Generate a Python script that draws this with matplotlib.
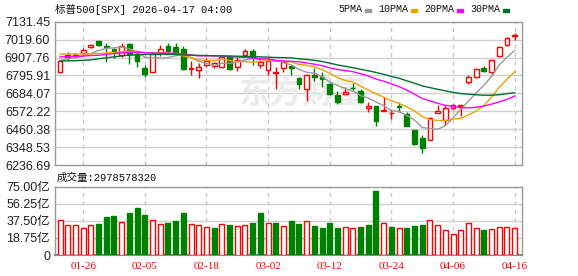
import matplotlib
matplotlib.use("Agg")
import matplotlib.pyplot as plt
import numpy as np
import pandas as pd
from matplotlib.patches import Rectangle

# ===== Data =====
dates = ["01-21", "01-22", "01-23", "01-26", "01-27", "01-28", "01-29", "01-30",
         "02-02", "02-03", "02-04", "02-05", "02-06", "02-09", "02-10", "02-11",
         "02-12", "02-13", "02-17", "02-18", "02-19", "02-20", "02-23", "02-24",
         "02-25", "02-26", "02-27", "03-02", "03-03", "03-04", "03-05", "03-06",
         "03-09", "03-10", "03-11", "03-12", "03-13", "03-16", "03-17", "03-18",
         "03-19", "03-20", "03-23", "03-24", "03-25", "03-26", "03-27", "03-30",
         "03-31", "04-01", "04-02", "04-06", "04-07", "04-08", "04-09", "04-10",
         "04-13", "04-14", "04-15", "04-16"]

tick_labels = ["01-26", "02-05", "02-18", "03-02", "03-12", "03-24", "04-06", "04-16"]

opens = [6820, 6923, 6917, 6934, 6975, 7010, 6981, 6959, 6923, 6993,
         6930, 6842, 6820, 6933, 6981, 6976, 6960, 6838, 6828, 6864,
         6855, 6849, 6911, 6847, 6921, 6950, 6863, 6832, 6814, 6841,
         6857, 6778, 6710, 6799, 6785, 6741, 6675, 6679, 6720, 6701,
         6590, 6602, 6575, 6560, 6603, 6555, 6455, 6408, 6395, 6559,
         6518, 6590, 6604, 6755, 6787, 6842, 6816, 6918, 6989, 7044]
highs = [6890, 6944, 6937, 6967, 6993, 7013, 6996, 6969, 7000, 7001,
         6946, 6859, 6944, 6984, 6996, 6998, 6977, 6888, 6872, 6903,
         6882, 6919, 6925, 6909, 6961, 6961, 6905, 6892, 6846, 6892,
         6864, 6787, 6803, 6841, 6816, 6747, 6701, 6726, 6747, 6710,
         6633, 6604, 6660, 6586, 6633, 6567, 6457, 6424, 6538, 6611,
         6611, 6619, 6614, 6797, 6842, 6855, 6894, 6977, 7039, 7063]
lows = [6813, 6892, 6905, 6930, 6969, 6977, 6877, 6903, 6913, 6869,
        6847, 6787, 6818, 6920, 6930, 6936, 6828, 6801, 6782, 6849,
        6841, 6843, 6828, 6822, 6915, 6863, 6842, 6801, 6712, 6819,
        6799, 6710, 6637, 6762, 6726, 6675, 6617, 6679, 6706, 6625,
        6565, 6478, 6571, 6526, 6567, 6478, 6360, 6314, 6395, 6559,
        6486, 6583, 6542, 6745, 6780, 6818, 6801, 6911, 6977, 7020]
closes = [6886, 6913, 6925, 6952, 6988, 6983, 6975, 6944, 6979, 6931,
          6888, 6807, 6928, 6964, 6950, 6945, 6836, 6840, 6849, 6886,
          6872, 6911, 6839, 6894, 6950, 6909, 6882, 6887, 6816, 6882,
          6841, 6741, 6799, 6787, 6772, 6679, 6633, 6695, 6716, 6627,
          6606, 6509, 6578, 6561, 6600, 6478, 6370, 6345, 6532, 6573,
          6590, 6611, 6614, 6787, 6833, 6824, 6891, 6971, 7028, 7047]

# volume in 亿 (1e8)
volumes = [38.4, 32.9, 32.9, 29.6, 32.9, 34.0, 41.7, 42.8, 36.2, 46.1,
           51.6, 43.9, 38.4, 34.0, 35.1, 37.3, 46.1, 34.0, 32.9, 30.7,
           29.6, 34.0, 32.9, 31.8, 32.9, 35.1, 46.1, 35.1, 35.1, 31.8,
           37.3, 34.0, 37.3, 31.8, 29.6, 35.1, 29.6, 30.7, 29.6, 30.7,
           32.9, 70.2, 35.1, 30.7, 29.6, 29.6, 31.8, 32.9, 38.4, 32.9,
           27.4, 23.0, 27.4, 35.1, 29.6, 27.4, 28.5, 30.7, 30.7, 29.7857832]
last_volume = "2978578320"

# moving-average values before each window is full
ma_heads = {
    5: [6890, 6900, 6908, 6916],
    10: [6929, 6929, 6930, 6930, 6931, 6933, 6936, 6940, 6944],
    20: [6912, 6913, 6915, 6917, 6920, 6922, 6927, 6932, 6937, 6940,
         6941, 6938, 6936, 6935, 6935, 6934, 6930, 6924, 6918],
    30: [6886, 6887, 6888, 6890, 6893, 6900, 6906, 6912, 6918, 6922,
         6925, 6927, 6928, 6928, 6928, 6927, 6924, 6922, 6921, 6920,
         6919, 6918, 6917, 6916, 6915, 6913, 6912, 6910, 6908],
}
ma_colors = {5: "#9a9a9a", 10: "#f0a000", 20: "#ff00ff", 30: "#007030"}

price_top = 7131.45
price_bottom = 6236.69

RED = "#ff0000"
GREEN = "#008000"

# ===== Build series =====
o = np.array(opens, float)
h = np.array(highs, float)
l = np.array(lows, float)
c = np.array(closes, float)
v = np.array(volumes, float)
x = np.arange(len(c))

cs = pd.Series(c)
mas = {}
for n, head in ma_heads.items():
    m = cs.rolling(n).mean().to_numpy()
    m[:n - 1] = head
    mas[n] = m

# ===== Figure =====
W, H = 578, 276
fig = plt.figure(figsize=(W / 100, H / 100), dpi=100)
fig.patch.set_facecolor("white")

left, right = 55, 522.3
ax = fig.add_axes([left / W, 1 - 165 / H, (right - left) / W, (165 - 21.7) / H])
axv = fig.add_axes([left / W, 1 - 255 / H, (right - left) / W, (255 - 186.7) / H])

tick_pos = [dates.index(t) for t in tick_labels]

for a in (ax, axv):
    a.set_xlim(-0.65, 59.99)
    a.set_xticks(tick_pos)
    a.tick_params(length=0)
    for s in a.spines.values():
        s.set_color("#999999")
        s.set_linewidth(1)
    for t in tick_pos:
        a.axvline(t, color="#c8c8c8", lw=1, ls=(0, (3, 3)), zorder=0)

# ===== Price panel =====
levels = np.linspace(price_bottom, price_top, 9)
ax.set_ylim(price_bottom, price_top)
ax.set_yticks(levels)
ax.set_yticklabels([f"{p:.2f}" for p in levels], family="Liberation Sans",
                   fontsize=9, color="#222222")
ax.set_xticklabels([])
for p in levels[1:-1]:
    ax.axhline(p, color="#d0d0d0", lw=1, zorder=0)

ax.text(0.529, 0.49, "东方财富", transform=ax.transAxes, ha="center", va="center",
        fontsize=23, fontweight="bold", color="#ebebeb",
        family="Noto Sans CJK SC", zorder=0.5)

up = c >= o
col = np.where(up, RED, GREEN)
ax.vlines(x, l, h, colors=col, lw=1, zorder=2)
body_bottom = np.minimum(o, c)
body_h = np.maximum(np.abs(c - o), 0.5)
ax.bar(x, body_h, bottom=body_bottom, width=0.62,
       color=np.where(up, "white", GREEN), edgecolor=col, lw=1, zorder=3)

for n, m in mas.items():
    ax.plot(x, m, color=ma_colors[n], lw=1, zorder=4)

# ===== Volume panel =====
vol_up = np.r_[up[0], c[1:] > c[:-1]]
vcol = np.where(vol_up, RED, GREEN)
axv.bar(x, v, width=0.65, color=np.where(vol_up, "white", GREEN),
        edgecolor=vcol, lw=1, zorder=3)
vticks = [0, 18.75, 37.5, 56.25, 75]
axv.set_ylim(0, 75)
axv.set_yticks(vticks)
axv.set_yticklabels(["0"] + [f"{t:.2f}亿" for t in vticks[1:]],
                    family=["Liberation Sans", "Noto Sans CJK SC"],
                    fontsize=9, color="#222222")
for t in vticks[1:-1]:
    axv.axhline(t, color="#d0d0d0", lw=1, zorder=0)
axv.set_xticklabels(tick_labels, family="Liberation Serif", fontsize=8, color=RED)
axv.tick_params(axis="x", pad=5)
axv.spines["bottom"].set_linewidth(1.5)
axv.spines["bottom"].set_color("#8a8a8a")

# ===== Header texts =====
mono = ["Liberation Mono", "Noto Sans CJK SC"]
fig.text(55 / W, 1 - 9.5 / H, "标普500[SPX] 2026-04-17 04:00", family=mono,
         fontsize=7.6, va="center", ha="left", color="#111111")
fig.text(57 / W, 1 - 178 / H, "成交量:" + last_volume, family=mono,
         fontsize=7.6, va="center", ha="left", color="#111111")

# legend: label followed by a small colour swatch
lx = 338.7
for n in (5, 10, 20, 30):
    label = f"{n}PMA"
    fig.text(lx / W, 1 - 9.5 / H, label, family="Liberation Mono", fontsize=7.2,
             va="center", ha="left", color="#111111")
    sx = lx + 6 * len(label) + 2
    fig.patches.append(Rectangle((sx / W, 1 - 11.5 / H), 6 / W, 2.5 / H,
                                 transform=fig.transFigure, color=ma_colors[n]))
    lx = sx + 14

fig.savefig("out.png", dpi=100)
